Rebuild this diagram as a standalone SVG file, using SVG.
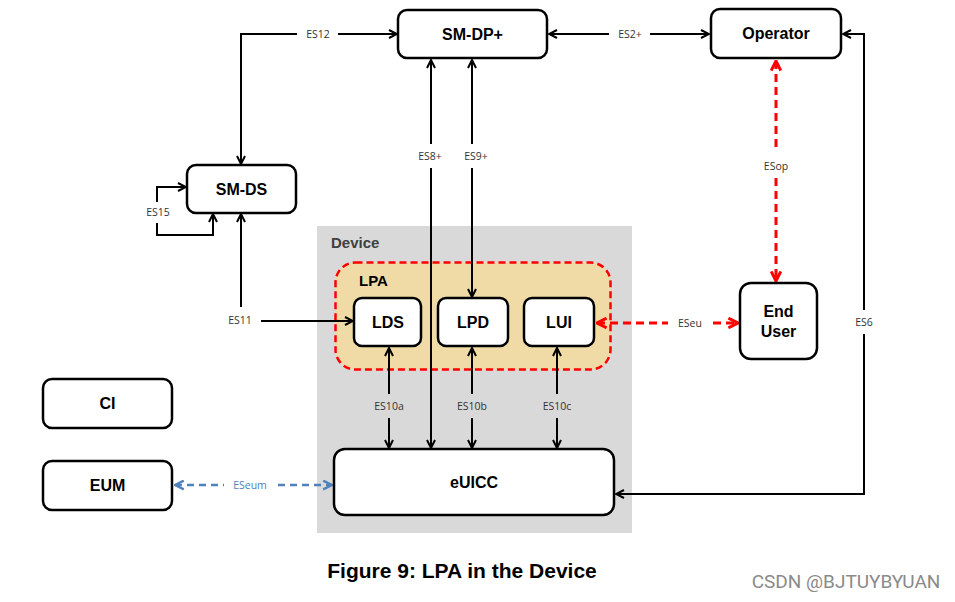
<svg xmlns="http://www.w3.org/2000/svg" width="955" height="602" viewBox="0 0 955 602">
<style>
.box{fill:#fff;stroke:#000;stroke-width:2.5}
.nt{font-family:"Liberation Sans",Arial,sans-serif;font-weight:bold;font-size:16px;text-anchor:middle;fill:#000}
.lbl{font-family:"Open Sans","DejaVu Sans",sans-serif;font-size:10.5px;text-anchor:middle;fill:#333}
.c{fill:none;stroke:#000;stroke-width:2}
.r{fill:none;stroke:#ff0000;stroke-width:3;stroke-dasharray:8,5}
.b{fill:none;stroke:#4f81bd;stroke-width:2.5;stroke-dasharray:7,5}
</style>
<defs>
<marker id="ak" viewBox="0 0 10 10" refX="9" refY="5" markerWidth="10" markerHeight="10" markerUnits="userSpaceOnUse" orient="auto-start-reverse"><path d="M1,1 L9,5 L1,9" fill="none" stroke="#000" stroke-width="2"/></marker>
<marker id="ar" viewBox="0 0 10 10" refX="9" refY="5" markerWidth="12" markerHeight="12" markerUnits="userSpaceOnUse" orient="auto-start-reverse"><path d="M1,1 L9,5 L1,9" fill="none" stroke="#ff0000" stroke-width="2.5"/></marker>
<marker id="ab" viewBox="0 0 10 10" refX="9" refY="5" markerWidth="11" markerHeight="11" markerUnits="userSpaceOnUse" orient="auto-start-reverse"><path d="M1,1 L9,5 L1,9" fill="none" stroke="#4f81bd" stroke-width="2.2"/></marker>
</defs>
<rect width="955" height="602" fill="#fff"/>

<g id="device">
<rect x="317" y="226" width="315" height="307" fill="#d9d9d9"/>
<text x="331" y="248" font-family="Liberation Sans,Arial,sans-serif" font-weight="bold" font-size="15" fill="#404040">Device</text>
</g>
<g id="lpa">
<rect x="335.5" y="262.5" width="275" height="107" rx="20" fill="#f0dba6" stroke="#ff0000" stroke-width="2.5" stroke-dasharray="7,4"/>
<text x="359" y="286" font-family="Liberation Sans,Arial,sans-serif" font-weight="bold" font-size="15" fill="#000">LPA</text>
</g>

<g id="connectors">
<!-- ES12 -->
<path class="c" d="M241,164 V34 H297" marker-start="url(#ak)"/>
<path class="c" d="M338,34 H397" marker-end="url(#ak)"/>
<text class="lbl" x="318" y="37.5">ES12</text>
<!-- ES2+ -->
<path class="c" d="M549,34 H609" marker-start="url(#ak)"/>
<path class="c" d="M650,34 H709" marker-end="url(#ak)"/>
<text class="lbl" x="630" y="37.5">ES2+</text>
<!-- ES8+ -->
<path class="c" d="M431,60 V144" marker-start="url(#ak)"/>
<path class="c" d="M431,168 V448" marker-end="url(#ak)"/>
<text class="lbl" x="430" y="159.5">ES8+</text>
<!-- ES9+ -->
<path class="c" d="M472,60 V144" marker-start="url(#ak)"/>
<path class="c" d="M472,168 V297" marker-end="url(#ak)"/>
<text class="lbl" x="476" y="159.5">ES9+</text>
<!-- ES15 -->
<path class="c" d="M157,202 V187 H186" marker-end="url(#ak)"/>
<path class="c" d="M157,223 V235 H213 V214" marker-end="url(#ak)"/>
<text class="lbl" x="158" y="216">ES15</text>
<!-- ES11 -->
<path class="c" d="M241,307 V214" marker-end="url(#ak)"/>
<path class="c" d="M261,321 H353" marker-end="url(#ak)"/>
<text class="lbl" x="240" y="324">ES11</text>
<!-- ES10a/b/c -->
<path class="c" d="M389,348 V394" marker-start="url(#ak)"/>
<path class="c" d="M389,418 V448" marker-end="url(#ak)"/>
<text class="lbl" x="389" y="409.5">ES10a</text>
<path class="c" d="M472,348 V394" marker-start="url(#ak)"/>
<path class="c" d="M472,418 V448" marker-end="url(#ak)"/>
<text class="lbl" x="472" y="409.5">ES10b</text>
<path class="c" d="M557,348 V394" marker-start="url(#ak)"/>
<path class="c" d="M557,418 V448" marker-end="url(#ak)"/>
<text class="lbl" x="557" y="409.5">ES10c</text>
<!-- ES6 -->
<path class="c" d="M616,494 H864 V334" marker-start="url(#ak)"/>
<path class="c" d="M864,310 V34 H843" marker-end="url(#ak)"/>
<text class="lbl" x="864" y="326">ES6</text>
<!-- ESeu -->
<path class="r" d="M597,323 H668" marker-start="url(#ar)"/>
<path class="r" d="M713,323 H738" marker-end="url(#ar)"/>
<text class="lbl" x="690" y="326.5">ESeu</text>
<!-- ESop -->
<path class="r" d="M776,61 V150" marker-start="url(#ar)"/>
<path class="r" d="M776,178 V281" marker-end="url(#ar)"/>
<text class="lbl" x="776" y="169.5">ESop</text>
<!-- ESeum -->
<path class="b" d="M175,485 H224" marker-start="url(#ab)"/>
<path class="b" d="M278,485 H332" marker-end="url(#ab)"/>
<text class="lbl" x="250" y="488.5" style="fill:#4f81bd">ESeum</text>
</g>

<g id="smdp"><rect class="box" x="398" y="10" width="149" height="48" rx="9"/><text class="nt" x="472.5" y="40">SM-DP+</text></g>
<g id="operator"><rect class="box" x="711" y="9" width="130" height="49" rx="9"/><text class="nt" x="776" y="39">Operator</text></g>
<g id="smds"><rect class="box" x="187" y="165" width="109" height="48" rx="9"/><text class="nt" x="241.5" y="195">SM-DS</text></g>
<g id="lds"><rect class="box" x="354" y="298" width="67" height="48" rx="8"/><text class="nt" x="388" y="328">LDS</text></g>
<g id="lpd"><rect class="box" x="438" y="298" width="70" height="48" rx="8"/><text class="nt" x="473" y="328">LPD</text></g>
<g id="lui"><rect class="box" x="524" y="298" width="70" height="48" rx="8"/><text class="nt" x="559" y="328">LUI</text></g>
<g id="enduser"><rect class="box" x="740" y="283" width="77" height="76" rx="11"/><text class="nt" x="778.5" y="317">End</text><text class="nt" x="778.5" y="337">User</text></g>
<g id="ci"><rect class="box" x="43" y="379" width="129" height="49" rx="9"/><text class="nt" x="107.5" y="409">CI</text></g>
<g id="eum"><rect class="box" x="43" y="461" width="129" height="49" rx="9"/><text class="nt" x="107.5" y="491">EUM</text></g>
<g id="euicc"><rect class="box" x="334" y="449" width="280" height="66" rx="11"/><text class="nt" x="474" y="488">eUICC</text></g>

<text x="462" y="578" font-family="Liberation Sans,Arial,sans-serif" font-weight="bold" font-size="21" text-anchor="middle" fill="#000">Figure 9: LPA in the Device</text>
<text x="846" y="588" font-family="Roboto,'Liberation Sans',sans-serif" font-size="19" text-anchor="middle" fill="#8a8a8a">CSDN @BJTUYBYUAN</text>
</svg>
